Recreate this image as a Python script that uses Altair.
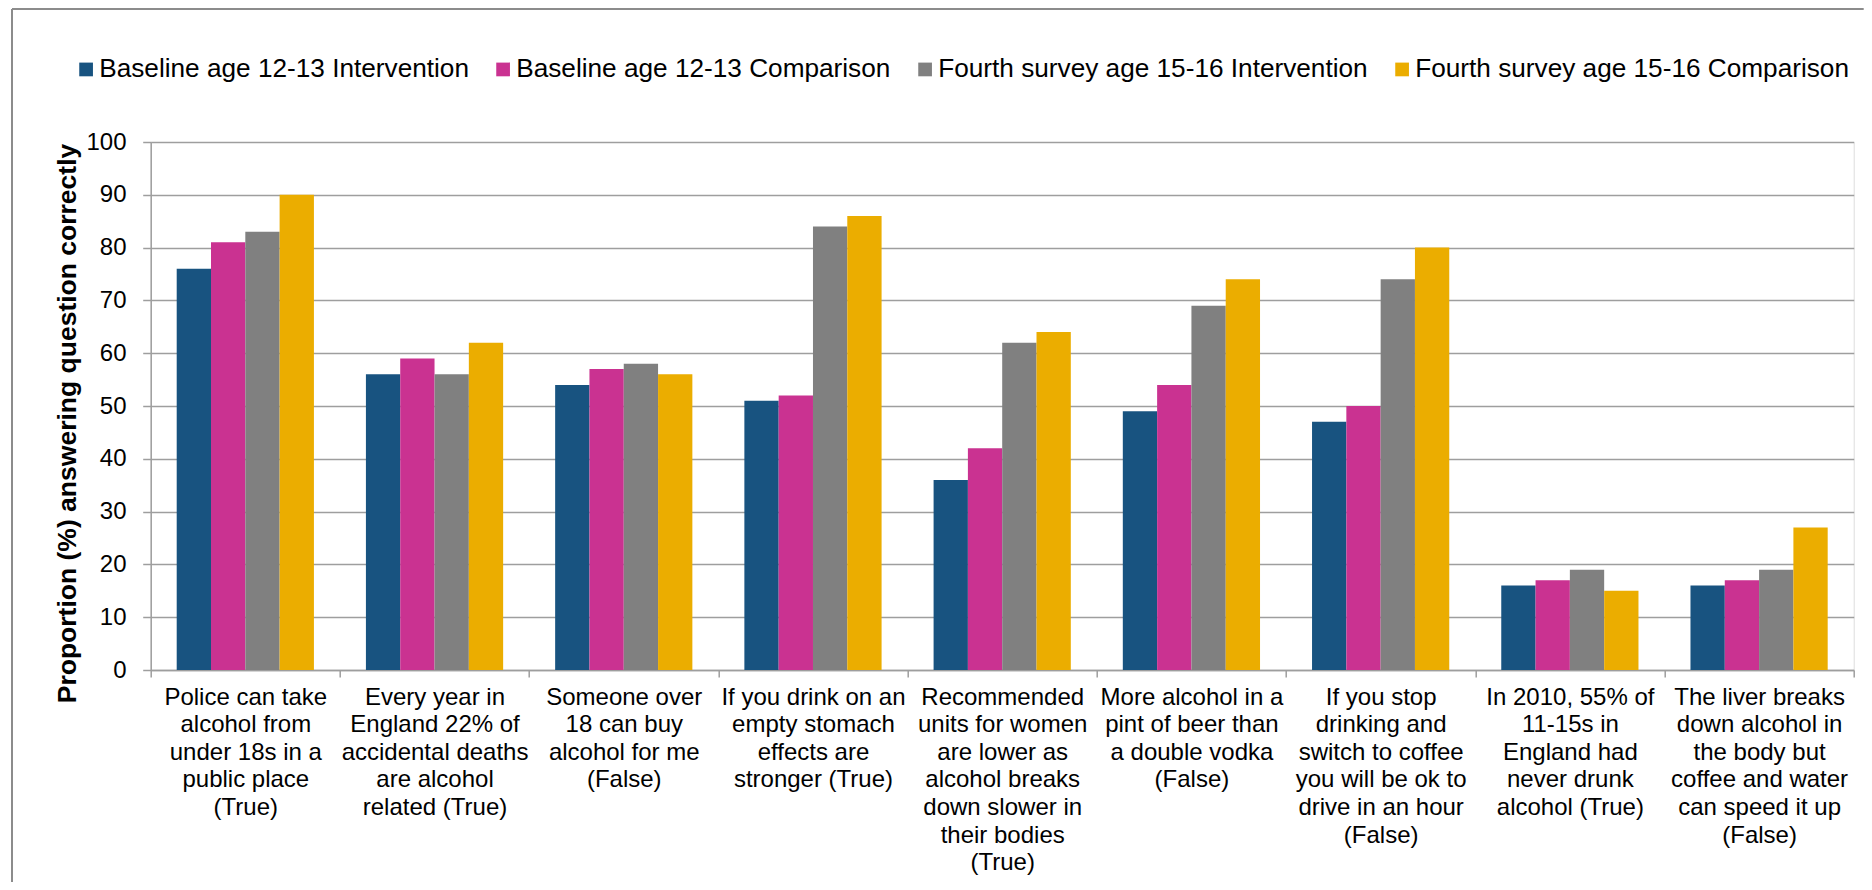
import altair as alt
import pandas as pd

categories = [
    "Police can take|alcohol from|under 18s in a|public place|(True)",
    "Every year in|England 22% of|accidental deaths|are alcohol|related (True)",
    "Someone over|18 can buy|alcohol for me|(False)",
    "If you drink on an|empty stomach|effects are|stronger (True)",
    "Recommended|units for women|are lower as|alcohol breaks|down slower in|their bodies|(True)",
    "More alcohol in a|pint of beer than|a double vodka|(False)",
    "If you stop|drinking and|switch to coffee|you will be ok to|drive in an hour|(False)",
    "In 2010, 55% of|11-15s in|England had|never drunk|alcohol (True)",
    "The liver breaks|down alcohol in|the body but|coffee and water|can speed it up|(False)",
]
series = [
    "Baseline age 12-13 Intervention",
    "Baseline age 12-13 Comparison",
    "Fourth survey age 15-16 Intervention",
    "Fourth survey age 15-16 Comparison",
]
colors = ["#185380", "#CA3291", "#808080", "#EBAD00"]

baseline_intervention = [76, 56, 54, 51, 36, 49, 47, 16, 16]
baseline_comparison = [81, 59, 57, 52, 42, 54, 50, 17, 17]
fourth_intervention = [83, 56, 58, 84, 62, 69, 74, 19, 19]
fourth_comparison = [90, 62, 56, 86, 64, 74, 80, 15, 27]

values_by_series = [baseline_intervention, baseline_comparison,
                    fourth_intervention, fourth_comparison]
rows = []
for s, vals in zip(series, values_by_series):
    for c, v in zip(categories, vals):
        rows.append({"cat": c, "series": s, "value": v})
df = pd.DataFrame(rows)

FONT = "Liberation Sans"
GRID = "#9E9E9E"

bars = alt.Chart(df).mark_bar().encode(
    x=alt.X("cat:N", sort=categories,
            scale=alt.Scale(paddingInner=0, paddingOuter=0),
            axis=alt.Axis(title=None, labelAngle=0,
                          labelExpr="isValid(datum.value) ? split(datum.value, '|') : ''",
                          labelFontSize=24, labelLineHeight=27.6, labelColor="#000000",
                          labelFont=FONT, labelLimit=400, labelPadding=8,
                          tickBand="extent", tickSize=7, tickColor=GRID, tickWidth=1.5,
                          domainColor=GRID, domainWidth=1.5, grid=False,
                          labelBaseline="top")),
    xOffset=alt.XOffset("series:N", sort=series,
                        scale=alt.Scale(paddingInner=0, paddingOuter=0.758)),
    y=alt.Y("value:Q", scale=alt.Scale(domain=[0, 100], nice=False),
            axis=alt.Axis(title="Proportion (%) answering question correctly",
                          values=list(range(0, 101, 10)),
                          titleFontSize=26.5, titleFontWeight="bold", titleFont=FONT,
                          titleColor="#000000", titleAngle=-90,
                          titleX=-83, titleY=281, titleAlign="center",
                          titleBaseline="middle",
                          labelFontSize=24, labelFont=FONT, labelColor="#000000",
                          labelPadding=16.7, tickSize=8, tickColor=GRID, tickWidth=1.5,
                          domainColor=GRID, domainWidth=1.5,
                          grid=True, gridColor=GRID, gridWidth=1.5)),
    color=alt.Color("series:N", sort=series,
                    scale=alt.Scale(domain=series, range=colors),
                    legend=alt.Legend(title=None, orient="none", direction="horizontal",
                                      legendX=-77.7, legendY=-86,
                                      symbolType="square", symbolSize=188,
                                      symbolStrokeWidth=0, symbolOpacity=1,
                                      labelFontSize=26.2, labelFont=FONT,
                                      labelColor="#000000", labelOffset=0,
                                      columnPadding=21, padding=0,
                                      labelLimit=600, columns=4)),
)

frame_data = alt.Data(values=[{"k": 1}])
top_line = alt.Chart(frame_data).mark_rule(color="#8C8C8C", strokeWidth=2).encode(
    x=alt.value(-138.7), x2=alt.value(1713), y=alt.value(-133))
left_line = alt.Chart(frame_data).mark_rule(color="#8C8C8C", strokeWidth=2).encode(
    x=alt.value(-138.7), y=alt.value(-133), y2=alt.value(740))

chart = alt.layer(top_line, left_line, bars).properties(
    width=1703, height=528,
    autosize=alt.AutoSizeParams(type="none"),
    padding={"left": 142.7, "top": 134, "right": 10.3, "bottom": 212},
).configure_view(stroke=None).configure(font=FONT, background="white")

chart.save("out.html", embed_options={"renderer": "svg", "actions": False})
